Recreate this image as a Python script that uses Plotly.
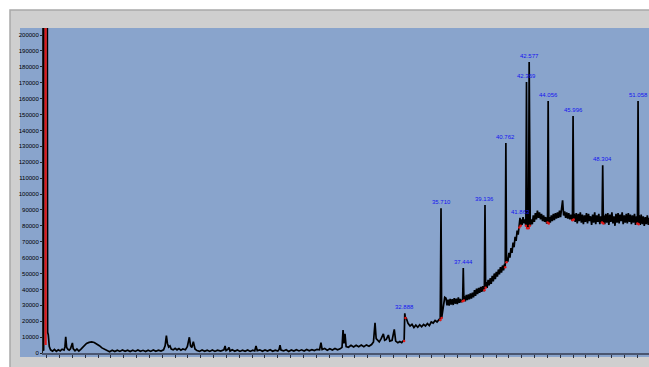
import numpy as np
import plotly.graph_objects as go

# ---------------- data ----------------
# retention time (min) of the continuous trace (baseline / noise), without the labelled peaks
base_time = [
    4.71, 4.76, 4.78, 5.04, 5.07, 5.12, 5.20, 5.30, 5.45, 5.60, 5.75, 5.90, 6.05, 6.20, 6.35, 6.42,
    6.48, 6.55, 6.65, 6.75, 6.85, 6.95, 7.00, 7.06, 7.20, 7.35, 7.50, 7.65, 7.80, 7.95, 8.10, 8.30,
    8.50, 8.70, 8.90, 9.10, 9.30, 9.50, 9.70, 9.90, 10.10, 10.30, 10.50, 10.70, 10.90, 11.10, 11.30,
    11.50, 11.70, 11.90, 12.10, 12.30, 12.50, 12.70, 12.90, 13.10, 13.30, 13.50, 13.70, 13.90, 14.10,
    14.22, 14.32, 14.40, 14.50, 14.60, 14.70, 14.85, 15.00, 15.15, 15.30, 15.45, 15.60, 15.80, 15.95,
    16.11, 16.20, 16.30, 16.42, 16.55, 16.70, 16.90, 17.10, 17.30, 17.50, 17.70, 17.90, 18.10, 18.30,
    18.55, 18.80, 18.89, 18.97, 19.10, 19.20, 19.28, 19.45, 19.65, 19.85, 20.05, 20.25, 20.45, 20.65,
    20.85, 21.05, 21.20, 21.30, 21.40, 21.60, 21.80, 22.00, 22.20, 22.40, 22.60, 22.80, 23.00, 23.10,
    23.17, 23.25, 23.45, 23.65, 23.85, 24.05, 24.25, 24.45, 24.65, 24.85, 25.05, 25.25, 25.45, 25.65,
    25.85, 26.05, 26.25, 26.36, 26.45, 26.65, 26.85, 27.05, 27.25, 27.45, 27.65, 27.85, 28.00, 28.08,
    28.15, 28.23, 28.32, 28.50, 28.70, 28.90, 29.10, 29.30, 29.50, 29.70, 29.90, 30.10, 30.30, 30.45,
    30.57, 30.66, 30.76, 30.90, 31.05, 31.22, 31.32, 31.45, 31.61, 31.72, 31.90, 32.07, 32.18, 32.35,
    32.50, 32.65, 32.75,
    33.00, 33.14, 33.30, 33.45, 33.60, 33.75, 33.90, 34.05, 34.20, 34.35, 34.50, 34.65, 34.80, 34.95,
    35.10, 35.25, 35.40, 35.55, 35.65,
    35.80, 35.90, 36.00, 36.10, 36.18, 36.26, 36.34, 36.42, 36.50, 36.58, 36.66, 36.74, 36.82, 36.90,
    36.98, 37.06, 37.14, 37.22, 37.30, 37.38,
    37.52, 37.60, 37.68, 37.76, 37.84, 37.92, 38.00, 38.08, 38.16, 38.24, 38.32, 38.40, 38.48, 38.56,
    38.64, 38.72, 38.80, 38.88, 38.96, 39.04,
    39.22, 39.30, 39.38, 39.46, 39.54, 39.62, 39.70, 39.78, 39.86, 39.94, 40.02, 40.10, 40.18, 40.26,
    40.34, 40.42, 40.50, 40.58, 40.66,
    40.84, 40.92, 41.00, 41.08, 41.16, 41.24, 41.32, 41.40, 41.48, 41.56, 41.64, 41.72, 41.80,
    41.94, 42.02, 42.10, 42.18, 42.25, 42.47,
    42.66, 42.74, 42.82, 42.90, 42.98, 43.06, 43.14, 43.22, 43.30, 43.38, 43.46, 43.54, 43.62, 43.70,
    43.78, 43.86, 43.94,
    44.14, 44.22, 44.30, 44.38, 44.46, 44.54, 44.62, 44.70, 44.78, 44.86, 44.94, 45.02, 45.10, 45.18,
    45.26, 45.34, 45.42, 45.50, 45.58, 45.66, 45.74, 45.82, 45.90,
    46.08, 46.16, 46.24, 46.32, 46.40, 46.48, 46.56, 46.64, 46.72, 46.80, 46.88, 46.96, 47.04, 47.12,
    47.20, 47.28, 47.36, 47.44, 47.52, 47.60, 47.68, 47.76, 47.84, 47.92, 48.00, 48.08, 48.16, 48.24,
    48.38, 48.46, 48.54, 48.62, 48.70, 48.78, 48.86, 48.94, 49.02, 49.10, 49.18, 49.26, 49.34, 49.42,
    49.50, 49.58, 49.66, 49.74, 49.82, 49.90, 49.98, 50.06, 50.14, 50.22, 50.30, 50.38, 50.46, 50.54,
    50.62, 50.70, 50.78, 50.86, 50.94,
    51.14, 51.22, 51.30, 51.38, 51.46, 51.54, 51.62, 51.70, 51.78, 51.86, 51.94,
]
# detector response (counts) of that trace
base_value = [
    1500, 1800, 260000, 260000, 13000, 11500, 4000, 2000, 1200, 2200, 1000, 2000, 1300, 2400, 1800, 4000,
    10200, 3500, 2300, 1800, 2600, 4500, 6300, 2800, 1400, 2500, 1200, 2300, 3500, 5000, 6000, 6700,
    7000, 6600, 5800, 4600, 3200, 2300, 1500, 800, 1700, 900, 1800, 1000, 1900, 1100, 1800,
    900, 1700, 1000, 1900, 1100, 1700, 900, 1800, 1000, 1900, 1100, 1800, 1200, 2000,
    4500, 10900, 6000, 3800, 4500, 2500, 2000, 3000, 2000, 2800, 1800, 2500, 2000, 4000,
    9900, 4500, 3500, 7100, 2500, 1500, 1000, 1900, 1100, 1800, 1000, 1900, 1000, 1800,
    1200, 2000, 4400, 1500, 2200, 3500, 1200, 2000, 1100, 1900, 1000, 1800, 1100, 1900,
    1000, 1800, 1300, 4400, 1500, 2000, 1100, 1900, 1200, 2000, 1100, 1800, 1200, 2200,
    5000, 1800, 1300, 2000, 1000, 1900, 1200, 2100, 1300, 2000, 1200, 2200, 1400, 2100,
    1500, 2300, 2000, 6500, 2200, 2800, 1800, 2700, 1900, 2800, 2000, 2600, 3500, 14500,
    6000, 12000, 4000, 3600, 4800, 3800, 4900, 3900, 5000, 4000, 5100, 4200, 5300, 7000,
    19000, 9000, 8000, 7000, 9000, 12000, 8000, 8500, 11300, 7500, 8000, 14900, 7500, 6500,
    7200, 6500, 7500,
    22000, 18700, 17000, 18000, 16000, 17500, 16200, 17800, 16500, 18000, 17000, 18500, 17200, 19500,
    18800, 20500, 19500, 21000, 20700,
    24000, 30000, 35000, 34400, 30000, 33500, 29800, 34000, 30500, 33800, 30200, 34500, 31000, 34200,
    30800, 35000, 31500, 34000, 32000, 33000,
    35500, 32500, 36500, 33200, 36800, 33800, 37500, 34200, 38000, 35000, 39500, 36000, 40500, 37000,
    41000, 37800, 41500, 38500, 42000, 39000,
    44500, 41000, 46000, 42500, 47000, 43500, 48500, 45000, 50000, 46500, 51000, 48000, 52500, 49500,
    54000, 50500, 55000, 52000, 56000,
    60000, 57500, 63000, 60000, 66000, 63000, 69500, 66500, 73000, 70500, 77000, 74500, 80500,
    84000, 80500, 85500, 81500, 84000, 78500,
    80000, 84000, 81000, 86500, 82500, 88000, 84000, 89500, 85000, 88500, 84000, 87500, 83000, 86500,
    82500, 85500, 81500,
    85500, 82000, 86500, 83000, 87500, 83500, 88000, 84500, 88500, 85000, 89500, 85500, 90000, 96000,
    86500, 89000, 85000, 88500, 84500, 88000, 84000, 87000, 83500,
    87500, 82500, 88000, 81500, 87500, 83000, 88500, 82000, 87000, 81000, 86500, 82500, 88000, 81500,
    87500, 83000, 86000, 80500, 87000, 82000, 88500, 81000, 86500, 82500, 87500, 81000, 86000, 82500,
    86500, 81000, 87500, 82000, 88000, 80500, 87000, 82500, 88500, 81500, 86000, 80000, 87500, 82000,
    88000, 81500, 87000, 83000, 88500, 81000, 86500, 82000, 87500, 81500, 88000, 82500, 87000, 81000,
    86500, 82000, 87500, 80500, 86000,
    86500, 80500, 87000, 81000, 86000, 80000, 85500, 81000, 86500, 80500, 85000,
]

# labelled peaks
peak_label = ["32.888", "35.710", "37.444", "39.136", "40.762", "41.863",
              "42.369", "42.577", "44.056", "45.996", "48.304", "51.058"]
peak_time = [32.888, 35.710, 37.444, 39.136, 40.762, 41.863,
             42.369, 42.577, 44.056, 45.996, 48.304, 51.058]
peak_height = [25000, 91000, 53500, 93100, 132000, 85000,
               170500, 183000, 158500, 149000, 118000, 158500]
peak_base_left = [7500, 20700, 32500, 39500, 54000, 79000,
                  80000, 78500, 82000, 83500, 82000, 81500]
peak_base_right = [22000, 22000, 33000, 41000, 57000, 80000,
                   78500, 80000, 81500, 84000, 81500, 81000]

# solvent peak integration drop line
solvent_time = [4.915, 4.915]
solvent_value = [5000, 260000]

y_ticks = [0, 10000, 20000, 30000, 40000, 50000, 60000, 70000, 80000, 90000, 100000,
           110000, 120000, 130000, 140000, 150000, 160000, 170000, 180000, 190000, 200000]

# ---------------- build trace ----------------
half_w = 0.05
bt = np.array(base_time, dtype=float)
bv = np.array(base_value, dtype=float)
keep = np.ones(len(bt), dtype=bool)
for t in peak_time:
    keep &= np.abs(bt - t) > half_w
pts = list(zip(bt[keep], bv[keep]))
red_x, red_y = [], []
for t, h, l, r in zip(peak_time, peak_height, peak_base_left, peak_base_right):
    pts += [(t - half_w, l), (t, h), (t + half_w, r)]
    red_x += [t - half_w, t + half_w]
    red_y += [l, r]
pts.sort(key=lambda p: p[0])
sx = [p[0] for p in pts]
sy = [p[1] for p in pts]

fig = go.Figure()
fig.add_trace(go.Scatter(x=sx, y=sy, mode="lines",
                         line=dict(color="#000000", width=1.7), hoverinfo="skip"))
fig.add_trace(go.Scatter(x=solvent_time, y=solvent_value, mode="lines",
                         line=dict(color="#e01818", width=2.2), hoverinfo="skip"))
fig.add_trace(go.Scatter(x=red_x, y=red_y, mode="markers",
                         marker=dict(color="#e01818", size=2.5), hoverinfo="skip"))

for lab, t, h in zip(peak_label, peak_time, peak_height):
    fig.add_annotation(x=t, y=h, text=lab, showarrow=False, yanchor="bottom", yshift=1,
                       font=dict(family="Liberation Sans", size=6, color="#1414f0"))

W, H = 649, 367
L, R, T, B = 43, 0, 28, 14
pw, ph = W - L - R, H - T - B


def px(xp):
    return (xp - L) / pw


def py(yp):
    return (H - B - yp) / ph


fig.update_layout(
    width=W, height=H,
    margin=dict(l=L, r=R, t=T, b=B, pad=0),
    paper_bgcolor="#ffffff",
    plot_bgcolor="#89a4cc",
    showlegend=False,
    shapes=[
        dict(type="rect", xref="paper", yref="paper", x0=px(10), x1=px(655), y0=py(372), y1=py(10),
             fillcolor="#cfcfcf", line=dict(color="#a9a9a9", width=1.5), layer="below"),
        dict(type="rect", xref="paper", yref="paper", x0=px(20), x1=px(655), y0=py(357), y1=py(28),
             fillcolor="#89a4cc", line=dict(width=0), layer="below"),
    ],
    xaxis=dict(range=[4.71, 51.91], showgrid=False, zeroline=False, showline=True,
               linecolor="#4a5670", linewidth=1.5, ticks="outside", ticklen=3, tickcolor="#2a3040",
               tickwidth=1, tick0=0, dtick=1, showticklabels=False, automargin=False),
    yaxis=dict(range=[0, 204400], showgrid=False, zeroline=False, showline=True,
               linecolor="#222222", linewidth=1, ticks="outside", ticklen=2, tickcolor="#222222",
               tickvals=y_ticks, ticktext=[str(v) for v in y_ticks],
               tickfont=dict(family="Liberation Sans", size=6, color="#000000"), automargin=False),
)

fig.write_html("out.html", config={"displayModeBar": False},
               post_script="document.body.style.margin='0';document.body.style.overflow='hidden';")
